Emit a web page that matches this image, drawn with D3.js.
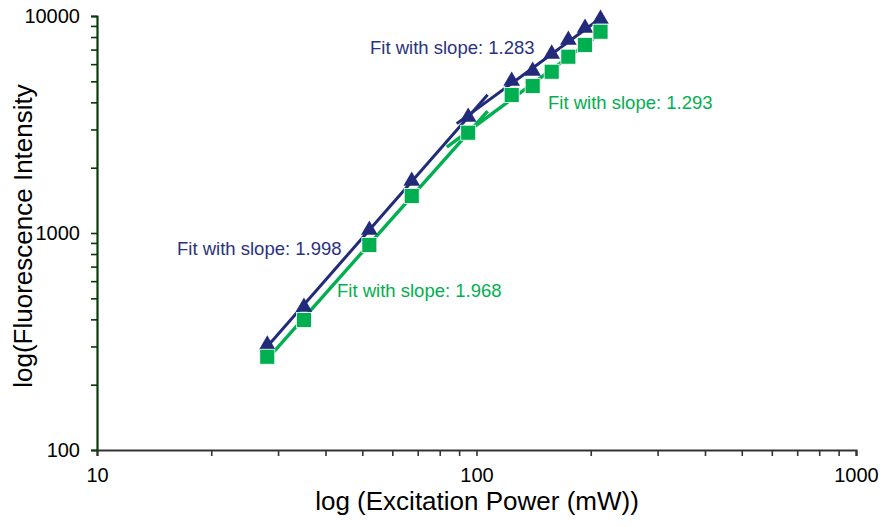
<!DOCTYPE html>
<html>
<head>
<meta charset="utf-8">
<script src="https://cdn.jsdelivr.net/npm/d3@7"></script>
<style>
  html, body { margin: 0; padding: 0; background: #fff; }
  svg { display: block; font-family: "Liberation Sans", Arial, Helvetica, sans-serif; }
</style>
</head>
<body>
<svg id="chart" width="882" height="527"></svg>
<script>
// Excitation power (mW) for each measurement
const power = [28.1, 35.1, 52.2, 67.5, 95.1, 123.8, 140.6, 157.8, 174.6, 193.2, 212.2];
// Fluorescence intensity, sample drawn with triangles
const intensityTri = [305, 456, 1032, 1736, 3424, 5016, 5578, 6683, 7751, 8805, 9688];
// Fluorescence intensity, sample drawn with squares
const intensitySq = [269, 397, 880, 1481, 2899, 4325, 4757, 5537, 6494, 7352, 8465];

// Power-law fits: slope, which points were fitted, and the drawn power range
const fitSlopes   = [1.998, 1.283, 1.968, 1.293];
const fitSeries   = ["tri", "tri", "sq", "sq"];
const fitFirst    = [0, 4, 0, 4];
const fitLast     = [4, 10, 4, 10];
const fitFromPow  = [28.1, 88.7, 28.1, 83.5];
const fitToPow    = [107, 212.2, 107, 212.2];
const fitLabels   = ["Fit with slope: 1.998", "Fit with slope: 1.283", "Fit with slope: 1.968", "Fit with slope: 1.293"];

const xTicks = [10, 100, 1000];
const yTicks = [100, 1000, 10000];

const NAVY = "#222a7a";
const GREEN = "#00b050";

const svg = d3.select("#chart");

const x = d3.scaleLog().domain([10, 1000]).range([97, 856]);
const y = d3.scaleLog().domain([100, 10000]).range([450, 16]);

// all decade sub-ticks (1..9 x 10^n)
function subTicks(lo, hi) {
  const out = [];
  for (let p = lo; p < hi; p *= 10) for (let k = 1; k < 10; k++) out.push(p * k);
  out.push(hi);
  return out;
}

// X axis
const xAxis = svg.append("g")
  .attr("transform", "translate(0,450)")
  .call(d3.axisBottom(x).tickValues(subTicks(10, 1000)).tickSize(6)
    .tickFormat(d => xTicks.includes(d) ? d3.format("d")(d) : ""));
xAxis.select(".domain").attr("stroke", "#333").attr("stroke-width", 2.2);
xAxis.selectAll(".tick line").attr("stroke", "#333").attr("stroke-width", 1.6);
xAxis.selectAll(".tick text").attr("font-size", 20).attr("fill", "#000")
  .attr("y", 18).attr("dy", "0.71em");

// Y axis
const yAxis = svg.append("g")
  .attr("transform", "translate(97,0)")
  .call(d3.axisLeft(y).tickValues(subTicks(100, 10000)).tickSize(6)
    .tickFormat(d => yTicks.includes(d) ? d3.format("d")(d) : ""));
yAxis.select(".domain").attr("stroke", "#0a3a0a").attr("stroke-width", 2.2);
yAxis.selectAll(".tick line").attr("stroke", "#0a3a0a").attr("stroke-width", 1.6);
yAxis.selectAll(".tick text").attr("font-size", 20).attr("fill", "#000")
  .attr("x", -17).attr("dy", "0.34em");

// Axis titles
svg.append("text")
  .attr("x", 477).attr("y", 510)
  .attr("text-anchor", "middle").attr("font-size", 26).attr("fill", "#000")
  .text("log (Excitation Power (mW))");
svg.append("text")
  .attr("transform", "translate(32,236) rotate(-90)")
  .attr("text-anchor", "middle").attr("font-size", 26).attr("fill", "#000")
  .text("log(Fluorescence Intensity");

// Fit lines: intercept from least squares in log space with the stated slope
const seriesData = { tri: intensityTri, sq: intensitySq };
const seriesColor = { tri: NAVY, sq: GREEN };
const fitLine = d3.line().x(d => x(d[0])).y(d => y(d[1]));

const fits = fitSlopes.map((slope, i) => {
  const ys = seriesData[fitSeries[i]];
  const idx = d3.range(fitFirst[i], fitLast[i] + 1);
  const mx = d3.mean(idx, j => Math.log10(power[j]));
  const my = d3.mean(idx, j => Math.log10(ys[j]));
  const b = my - slope * mx;
  const f = p => Math.pow(10, b + slope * Math.log10(p));
  return { slope, series: fitSeries[i], pts: [[fitFromPow[i], f(fitFromPow[i])], [fitToPow[i], f(fitToPow[i])]] };
});

// draw green fits first, navy fits on top
["sq", "tri"].forEach(s => {
  fits.filter(f => f.series === s).forEach(f => {
    svg.append("path")
      .attr("d", fitLine(f.pts))
      .attr("fill", "none")
      .attr("stroke", seriesColor[s])
      .attr("stroke-width", s === "sq" ? 3.4 : 3);
  });
});

// Triangle markers
const tri = d3.symbol().type(d3.symbolTriangle).size(120);
svg.append("g").selectAll("path")
  .data(power.map((p, i) => [p, intensityTri[i]]))
  .join("path")
  .attr("d", tri)
  .attr("transform", d => `translate(${x(d[0])},${y(d[1])})`)
  .attr("fill", NAVY);

// Square markers
svg.append("g").selectAll("rect")
  .data(power.map((p, i) => [p, intensitySq[i]]))
  .join("rect")
  .attr("x", d => x(d[0]) - 7.5).attr("y", d => y(d[1]) - 7.5)
  .attr("width", 15).attr("height", 15)
  .attr("fill", GREEN).attr("stroke", "#fff").attr("stroke-width", 0.8);

// Fit annotations
const labelPos = [[177, 255], [370, 54], [337, 297], [548, 109]];
const labelColor = [NAVY, NAVY, GREEN, GREEN];
fitLabels.forEach((t, i) => {
  svg.append("text")
    .attr("x", labelPos[i][0]).attr("y", labelPos[i][1])
    .attr("font-size", 18.5).attr("fill", labelColor[i] === NAVY ? "#2a3280" : GREEN)
    .text(t);
});
</script>
</body>
</html>
